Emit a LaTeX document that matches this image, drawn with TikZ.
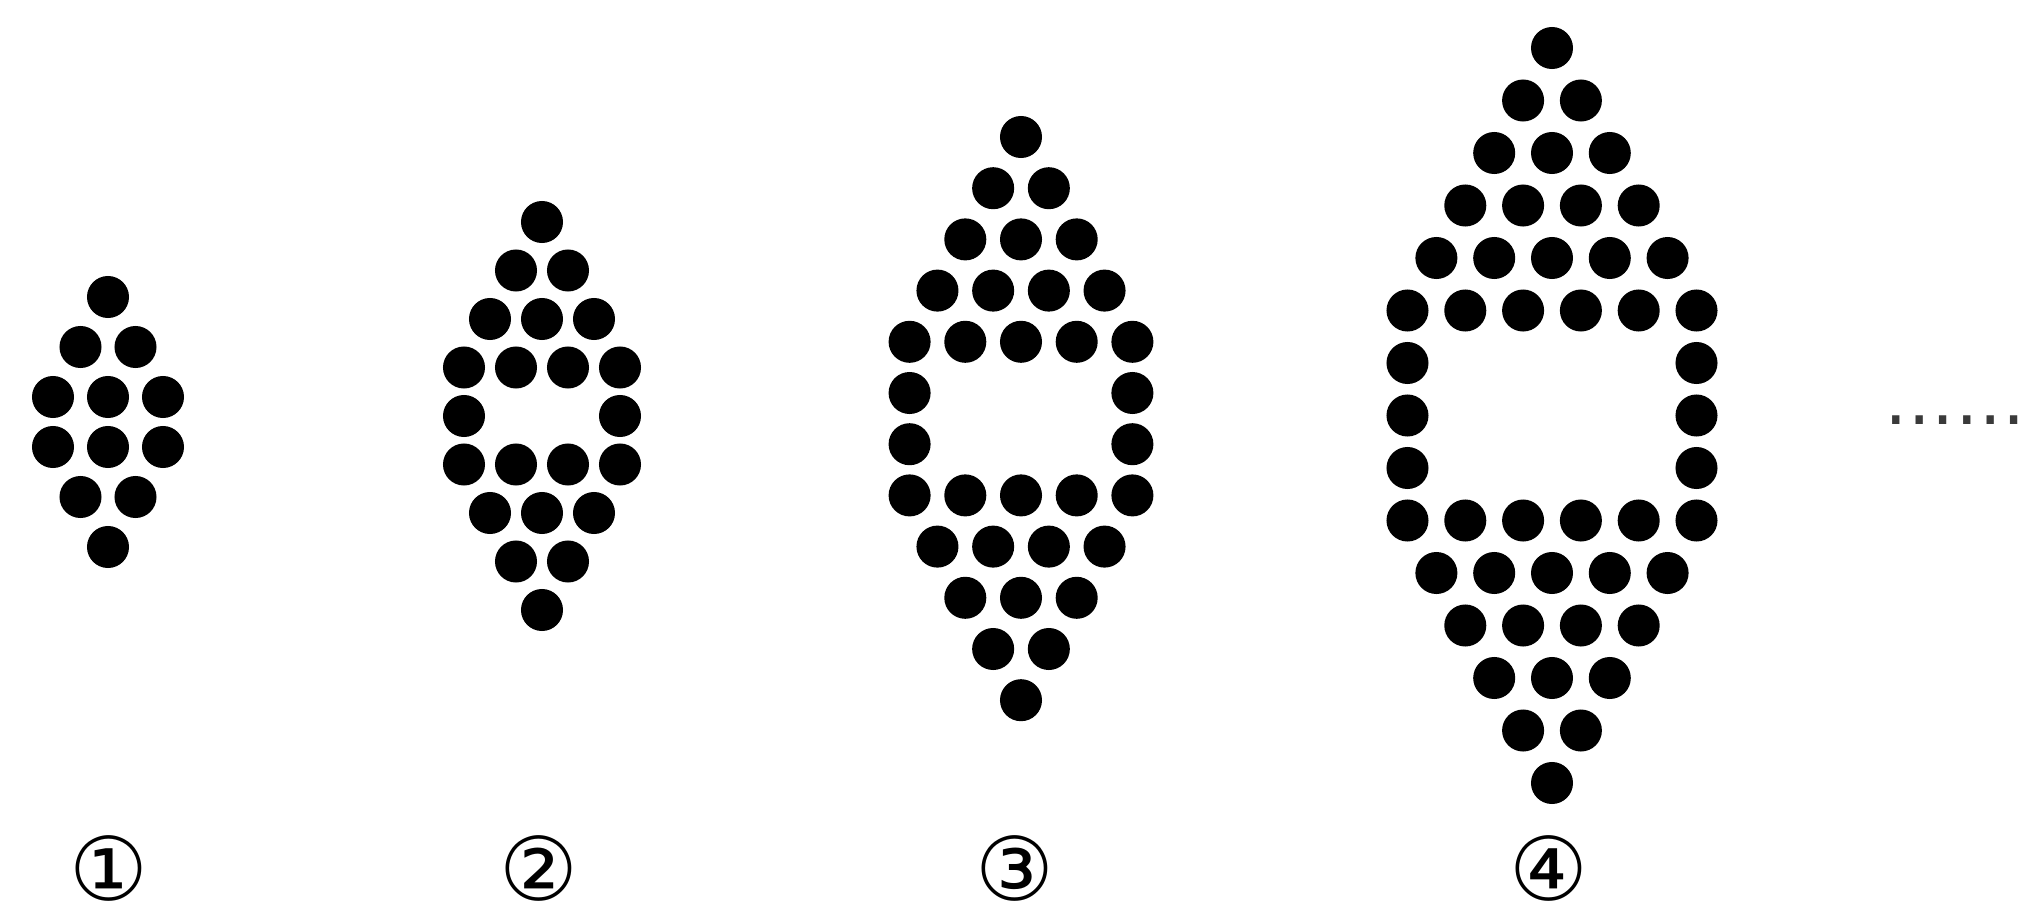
\documentclass[tikz,border=0pt]{standalone}
\usepackage{fontspec}
\newfontfamily\circfont{DejaVu Sans}
\definecolor{ink}  {HTML}{000000}
\definecolor{faint}{HTML}{3A3A3A}

% one figure: #1 = n, #2 = centre x, #3 = top row y, #4 = dx, #5 = dy
\newcommand{\dotfig}[5]{%
  \pgfmathtruncatemacro\rmax{#1+2}
  \foreach \rw in {1,...,\rmax}{
    \foreach \cl in {1,...,\rw}{
      \fill[ink] ({#2+(\cl-\rw/2-0.5)*#4}, {#3+(\rw-1)*#5}) circle[radius=0.21cm];
      \fill[ink] ({#2+(\cl-\rw/2-0.5)*#4}, {#3+(3*#1+3-\rw)*#5}) circle[radius=0.21cm];
    }
  }
  \ifnum#1>1
    \pgfmathtruncatemacro\gmax{#1-1}
    \foreach \gp in {1,...,\gmax}{
      \fill[ink] ({#2-(#1+1)/2*#4}, {#3+(#1+1+\gp)*#5}) circle[radius=0.21cm];
      \fill[ink] ({#2+(#1+1)/2*#4}, {#3+(#1+1+\gp)*#5}) circle[radius=0.21cm];
    }
  \fi
}

\tikzset{
  numlabel/.style={inner sep=0pt, font=\circfont\fontsize{25}{25}\selectfont},
}

\begin{document}
\begin{tikzpicture}[x=0.01cm, y=-0.01cm]
  \useasboundingbox (0,0) rectangle (2020,909);

  \dotfig{1}{108}{297}{55}{50}
  \dotfig{2}{542}{222}{52}{48.5}
  \dotfig{3}{1021}{137}{55.7}{51.2}
  \dotfig{4}{1552}{48}{57.8}{52.5}

  \node[numlabel] (n1) at (109,868) {①};
  \node[numlabel] (n2) at (539,868) {②};
  \node[numlabel] (n3) at (1015,868) {③};
  \node[numlabel] (n4) at (1549,868) {④};

  \node[inner sep=0pt, text=faint, font=\circfont\fontsize{20}{20}\selectfont] (more) at (1955,420) {……};
\end{tikzpicture}
\end{document}
